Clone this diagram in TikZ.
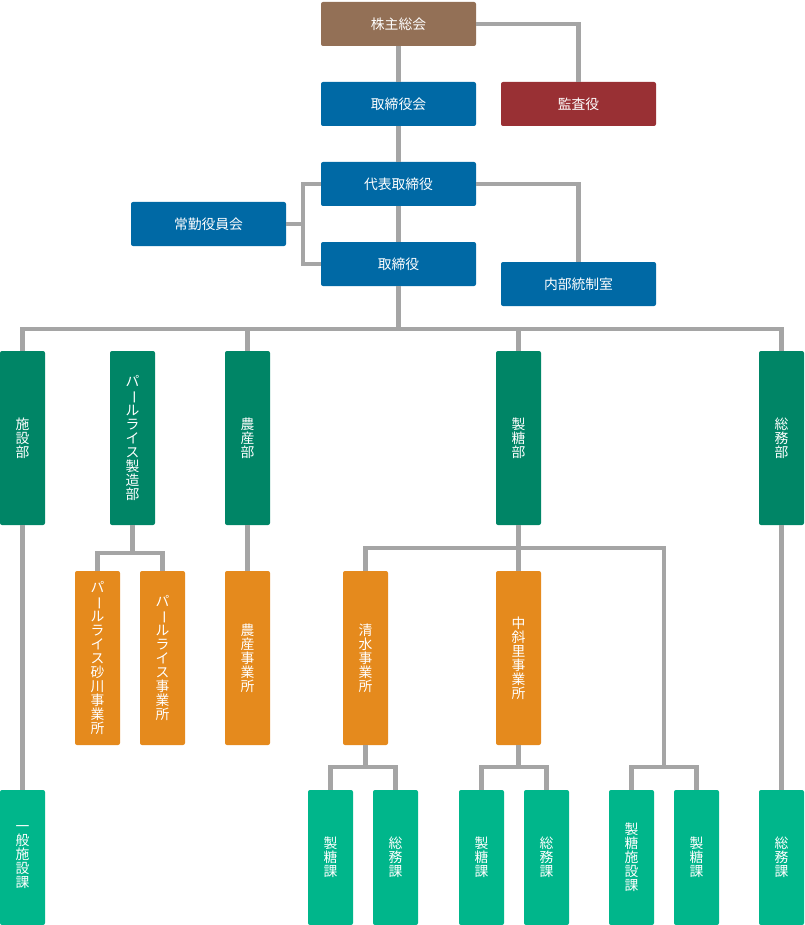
\documentclass[tikz,border=0pt]{standalone}
\usepackage{fontspec}
\newfontfamily\jpfont{Noto Sans CJK JP}
\newcommand\choonpu{\rotatebox[origin=c]{-90}{ー}}

\definecolor{boardbrown}{HTML}{937056}
\definecolor{boardblue}{HTML}{0069A5}
\definecolor{auditred}{HTML}{993034}
\definecolor{deptgreen}{HTML}{008566}
\definecolor{officeorange}{HTML}{E58A1D}
\definecolor{sectiongreen}{HTML}{00B68B}
\definecolor{linegray}{HTML}{A5A5A5}

\tikzset{
  orgbox/.style={fill=#1, text=white, rounded corners=2pt, inner sep=0pt,
    font=\jpfont\fontsize{13.8}{14}\selectfont, align=center},
  widebox/.style={orgbox=#1, minimum width=155pt, minimum height=44pt},
  tallbox/.style={orgbox=#1, minimum width=45pt, minimum height=174pt},
  shortbox/.style={orgbox=#1, minimum width=45pt, minimum height=135pt},
  link/.style={draw=linegray, line width=4.5pt},
}

\begin{document}
\begin{tikzpicture}[x=1pt, y=-1pt]
\useasboundingbox (0,0) rectangle (804,925);

% management
\node[widebox=boardbrown] (soukai) at (398.5,24) {株主総会};
\node[widebox=boardblue] (torikai) at (398.5,104) {取締役会};
\node[widebox=auditred] (kansa) at (578.5,104) {監査役};
\node[widebox=boardblue] (daihyo) at (398.5,184) {代表取締役};
\node[widebox=boardblue] (joukin) at (208.5,224) {常勤役員会};
\node[widebox=boardblue] (torishimari) at (398.5,264) {取締役};
\node[widebox=boardblue] (naibu) at (578.5,284) {内部統制室};

% departments
\node[tallbox=deptgreen] (shisetsu) at (22.5,438) {施\\設\\部};
\node[tallbox=deptgreen] (pearl) at (132.5,438) {パ\\\choonpu\\ル\\ラ\\イ\\ス\\製\\造\\部};
\node[tallbox=deptgreen] (nousan) at (247.5,438) {農\\産\\部};
\node[tallbox=deptgreen] (seitou) at (518.5,438) {製\\糖\\部};
\node[tallbox=deptgreen] (soumu) at (781.5,438) {総\\務\\部};

% offices
\node[tallbox=officeorange] (sunagawa) at (97.5,658) {パ\\\choonpu\\ル\\ラ\\イ\\ス\\砂\\川\\事\\業\\所};
\node[tallbox=officeorange] (pearljigyo) at (162.5,658) {パ\\\choonpu\\ル\\ラ\\イ\\ス\\事\\業\\所};
\node[tallbox=officeorange] (nousanjigyo) at (247.5,658) {農\\産\\事\\業\\所};
\node[tallbox=officeorange] (shimizu) at (365.5,658) {清\\水\\事\\業\\所};
\node[tallbox=officeorange] (nakashari) at (518.5,658) {中\\斜\\里\\事\\業\\所};

% sections
\node[shortbox=sectiongreen] (ippan) at (22.5,857.5) {一\\般\\施\\設\\課};
\node[shortbox=sectiongreen] (ka1) at (330.5,857.5) {製\\糖\\課};
\node[shortbox=sectiongreen] (ka2) at (395.5,857.5) {総\\務\\課};
\node[shortbox=sectiongreen] (ka3) at (481.5,857.5) {製\\糖\\課};
\node[shortbox=sectiongreen] (ka4) at (546.5,857.5) {総\\務\\課};
\node[shortbox=sectiongreen] (ka5) at (631.5,857.5) {製\\糖\\施\\設\\課};
\node[shortbox=sectiongreen] (ka6) at (696.5,857.5) {製\\糖\\課};
\node[shortbox=sectiongreen] (ka7) at (781.5,857.5) {総\\務\\課};

% bus points
\coordinate (jbend) at (303,224);
\coordinate (bus1) at (398.5,329);
\coordinate (bus2) at (132.5,553);
\coordinate (bus3) at (518.5,548);
\coordinate (bus4) at (365.5,767);
\coordinate (bus5) at (518.5,767);
\coordinate (bus6) at (664,767);

% connectors
\draw[link] (soukai) -- (torikai) (torikai) -- (daihyo) (daihyo) -- (torishimari);
\draw[link] (soukai.east) -| (kansa.north);
\draw[link] (daihyo.east) -| (naibu.north);
\draw[link] (daihyo.west) -| (jbend) |- (torishimari.west);
\draw[link] (joukin.east) -- (jbend);
\draw[link] (torishimari.south) -- (bus1);
\draw[link] (shisetsu.north) |- (bus1) -| (soumu.north);
\draw[link] (nousan.north) -- (nousan.north |- bus1);
\draw[link] (seitou.north) -- (seitou.north |- bus1);
\draw[link] (pearl.south) -- (bus2);
\draw[link] (sunagawa.north) |- (bus2) -| (pearljigyo.north);
\draw[link] (nousan.south) -- (nousanjigyo.north);
\draw[link] (shisetsu.south) -- (ippan.north);
\draw[link] (soumu.south) -- (ka7.north);
\draw[link] (seitou.south) -- (nakashari.north);
\draw[link] (shimizu.north) |- (bus3) -| (bus6);
\draw[link] (shimizu.south) -- (bus4);
\draw[link] (ka1.north) |- (bus4) -| (ka2.north);
\draw[link] (nakashari.south) -- (bus5);
\draw[link] (ka3.north) |- (bus5) -| (ka4.north);
\draw[link] (ka5.north) |- (bus6) -| (ka6.north);
\end{tikzpicture}
\end{document}
